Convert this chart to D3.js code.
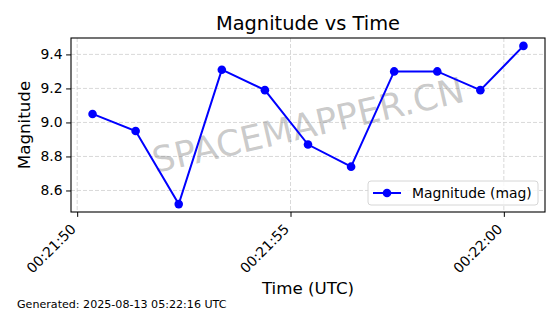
<!DOCTYPE html>
<html>
<head>
<meta charset="utf-8">
<script src="https://cdn.jsdelivr.net/npm/d3@7"></script>
<style>
  body { margin: 0; background: #fff; }
  svg { display: block; font-family: "DejaVu Sans", sans-serif; }
</style>
</head>
<body>
<script>
  // readings
  var times = [
    '2025-08-13T00:21:50.360Z',
    '2025-08-13T00:21:51.370Z',
    '2025-08-13T00:21:52.380Z',
    '2025-08-13T00:21:53.390Z',
    '2025-08-13T00:21:54.400Z',
    '2025-08-13T00:21:55.410Z',
    '2025-08-13T00:21:56.420Z',
    '2025-08-13T00:21:57.430Z',
    '2025-08-13T00:21:58.440Z',
    '2025-08-13T00:21:59.450Z',
    '2025-08-13T00:22:00.460Z'
  ];
  var magnitudes = [9.05, 8.95, 8.52, 9.31, 9.19, 8.87, 8.74, 9.30, 9.30, 9.19, 9.45];
  var yTicks = [8.6, 8.8, 9.0, 9.2, 9.4];
  var seriesName = 'Magnitude (mag)';

  var w = 560;
  var h = 314;
  var margin = { left: 71, right: 15, top: 38, bottom: 102 };
  var pw = w - margin.left - margin.right;
  var ph = h - margin.top - margin.bottom;

  var dataset = times.map((t, i) => ({ t: d3.isoParse(t), v: magnitudes[i] }));

  var svg = d3
    .select('body')
    .append('svg')
    .attr('width', w)
    .attr('height', h);

  // matplotlib style 5% padding
  var tExt = d3.extent(dataset, d => +d.t);
  var tPad = (tExt[1] - tExt[0]) * 0.05;
  var vExt = d3.extent(dataset, d => d.v);
  var vPad = (vExt[1] - vExt[0]) * 0.05;

  var xScale = d3
    .scaleUtc()
    .domain([new Date(tExt[0] - tPad), new Date(tExt[1] + tPad)])
    .range([0, pw]);

  var yScale = d3
    .scaleLinear()
    .domain([vExt[0] - vPad, vExt[1] + vPad])
    .range([ph, 0]);

  var g = svg.append('g').attr('transform', `translate(${margin.left}, ${margin.top})`);

  var xTicks = xScale.ticks(d3.utcSecond.every(5));

  // grid
  g.append('g')
    .selectAll('line')
    .data(xTicks)
    .enter()
    .append('line')
    .attr('x1', d => xScale(d))
    .attr('x2', d => xScale(d))
    .attr('y1', 0)
    .attr('y2', ph)
    .attr('stroke', '#cfcfcf')
    .attr('stroke-width', 0.8)
    .attr('stroke-dasharray', '4,2');

  g.append('g')
    .selectAll('line')
    .data(yTicks)
    .enter()
    .append('line')
    .attr('x1', 0)
    .attr('x2', pw)
    .attr('y1', d => yScale(d))
    .attr('y2', d => yScale(d))
    .attr('stroke', '#cfcfcf')
    .attr('stroke-width', 0.8)
    .attr('stroke-dasharray', '4,2');

  // watermark
  g.append('text')
    .attr('transform', `translate(${pw / 2}, ${ph / 2}) rotate(-13)`)
    .attr('text-anchor', 'middle')
    .attr('dominant-baseline', 'central')
    .attr('font-size', 35.5)
    .attr('fill', '#808080')
    .attr('fill-opacity', 0.42)
    .text('SPACEMAPPER.CN');

  // series
  var line = d3
    .line()
    .x(d => xScale(d.t))
    .y(d => yScale(d.v));

  g.append('path')
    .datum(dataset)
    .attr('d', line)
    .attr('fill', 'none')
    .attr('stroke', '#0000ff')
    .attr('stroke-width', 2);

  g.append('g')
    .selectAll('circle')
    .data(dataset)
    .enter()
    .append('circle')
    .attr('cx', d => xScale(d.t))
    .attr('cy', d => yScale(d.v))
    .attr('r', 4.3)
    .attr('fill', '#0000ff');

  // axes
  var xAxis = d3
    .axisBottom(xScale)
    .tickValues(xTicks)
    .tickSize(4.9)
    .tickSizeOuter(0)
    .tickFormat(d3.utcFormat('%H:%M:%S'));

  var xg = g
    .append('g')
    .attr('transform', `translate(0, ${ph})`)
    .call(xAxis);
  xg.select('.domain').remove();
  xg.selectAll('line').attr('stroke', '#000').attr('stroke-width', 1);
  xg.selectAll('text')
    .attr('font-size', 13.9)
    .attr('fill', '#000')
    .attr('font-family', '"DejaVu Sans", sans-serif')
    .attr('text-anchor', 'end')
    .attr('dy', null)
    .attr('y', 0)
    .attr('transform', 'translate(-1, 18) rotate(-45)');

  var yAxis = d3
    .axisLeft(yScale)
    .tickValues(yTicks)
    .tickSize(4.9)
    .tickSizeOuter(0)
    .tickFormat(d3.format('.1f'));

  var yg = g.append('g').call(yAxis);
  yg.select('.domain').remove();
  yg.selectAll('line').attr('stroke', '#000').attr('stroke-width', 1);
  yg.selectAll('text')
    .attr('font-size', 13.9)
    .attr('fill', '#000')
    .attr('font-family', '"DejaVu Sans", sans-serif')
    .attr('x', -8.5);

  // frame
  g.append('rect')
    .attr('width', pw)
    .attr('height', ph)
    .attr('fill', 'none')
    .attr('stroke', '#000')
    .attr('stroke-width', 1.1);

  // legend
  var lg = g.append('g').attr('transform', `translate(${pw - 177}, ${ph - 31})`);
  lg.append('rect')
    .attr('width', 170)
    .attr('height', 24)
    .attr('rx', 3)
    .attr('fill', '#fff')
    .attr('fill-opacity', 0.8)
    .attr('stroke', '#d6d6d6')
    .attr('stroke-width', 1);
  lg.append('line')
    .attr('x1', 5)
    .attr('x2', 33)
    .attr('y1', 12)
    .attr('y2', 12)
    .attr('stroke', '#0000ff')
    .attr('stroke-width', 2);
  lg.append('circle')
    .attr('cx', 19)
    .attr('cy', 12)
    .attr('r', 4.3)
    .attr('fill', '#0000ff');
  lg.append('text')
    .attr('x', 44)
    .attr('y', 17)
    .attr('font-size', 13.9)
    .text(seriesName);

  // titles
  svg.append('text')
    .attr('x', margin.left + pw / 2)
    .attr('y', 30)
    .attr('text-anchor', 'middle')
    .attr('font-size', 19.4)
    .text('Magnitude vs Time');

  svg.append('text')
    .attr('transform', `translate(30, ${margin.top + ph / 2}) rotate(-90)`)
    .attr('text-anchor', 'middle')
    .attr('font-size', 16.7)
    .text('Magnitude');

  svg.append('text')
    .attr('x', margin.left + pw / 2)
    .attr('y', 294)
    .attr('text-anchor', 'middle')
    .attr('font-size', 16.7)
    .text('Time (UTC)');

  svg.append('text')
    .attr('x', 17)
    .attr('y', 308)
    .attr('font-size', 11.1)
    .text('Generated: 2025-08-13 05:22:16 UTC');
</script>
</body>
</html>
